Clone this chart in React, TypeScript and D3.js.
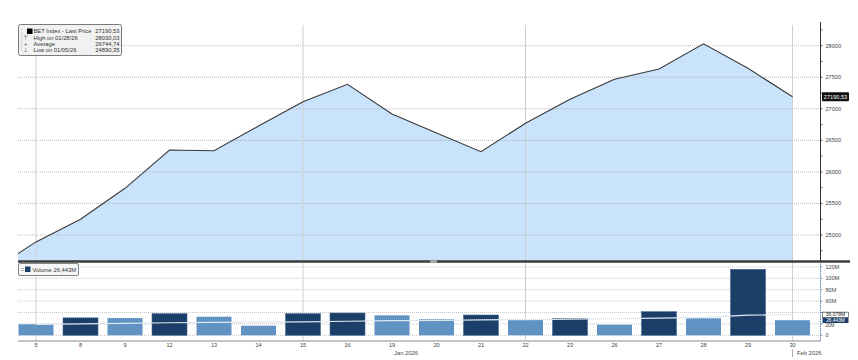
import React from "react";
import * as d3 from "d3";

// trading days shown on the axis (Jan 2026)
const dayLabels = ["5", "8", "9", "12", "13", "14", "15", "16", "19", "20", "21", "22", "23", "26", "27", "28", "29", "30"];
const prevClose = 24430; // close before Jan 5, only its segment shows at the left edge
const lastPrice = [
  24890.35, 25249, 25740, 26347, 26336, 26727, 27112, 27388, 26918, 26616,
  26320, 26770, 27152, 27468, 27631, 28030.03, 27642, 27190.53,
];
const volumeM = [
  19.3, 30.6, 30.2, 37.9, 32.6, 16.8, 37.9, 39.1, 35.0, 28.0,
  35.6, 26.8, 29.8, 18.6, 41.4, 29.8, 115.8, 26.443,
];
const volumeAvgM = [
  19.0, 20.0, 21.0, 22.0, 22.8, 23.2, 23.7, 24.6, 25.6, 26.0,
  27.2, 27.6, 28.2, 29.0, 30.0, 31.5, 35.3, 36.078,
];
const priceTicks = [25000, 25500, 26000, 26500, 27000, 27500, 28000];
const volumeTicks = [0, 20, 40, 60, 80, 100, 120];
// 40M is hidden behind the last-value boxes in the original
const volumeTickLabels = ["0", "20M", "", "60M", "80M", "100M", "120M"];
const gridDays = [0, 6, 11, 17];
const legendLabels = ["BET Index - Last Price", "High on 01/28/26", "Average", "Low on 01/05/26"];
const legendValues = ["27190,53", "28030,03", "26744,74", "24890,35"];

const W = 858;
const H = 360;
const left = 18;
const axisX = 820.5;
const priceTop = 25;
const priceBottom = 262;
const volTop = 262.5;
const volBottom = 341;
const font = "'Liberation Sans', Arial, sans-serif";

const fmt = (v: number) => v.toFixed(2).replace(".", ",");
const fmtM = (v: number) => v.toFixed(3).replace(".", ",") + "M";

export default function App() {
  const x = d3.scaleLinear().domain([0, dayLabels.length - 1]).range([36, 792.5]);
  const yP = d3.scaleLinear().domain([24572, 28328]).range([priceBottom, priceTop]);
  const yV = d3.scaleLinear().domain([-10, 127.7]).range([volBottom, volTop]);

  const pts: [number, number][] = [[-1, prevClose], ...lastPrice.map((v, i) => [i, v] as [number, number])];
  const line = d3.line<[number, number]>().x((d) => x(d[0])).y((d) => yP(d[1]));
  const area = d3
    .area<[number, number]>()
    .x((d) => x(d[0]))
    .y0(priceBottom)
    .y1((d) => yP(d[1]));
  const avgLine = d3.line<number>().x((_, i) => x(i)).y((d) => yV(d));

  const minorTicks = d3.range(24750, 28300, 250);
  const barW = 35;
  const last = lastPrice.length - 1;

  return (
    <svg width={W} height={H} style={{ position: "absolute", left: 0, top: 0, background: "#fff" }} fontFamily={font}>
      <defs>
        <clipPath id="pclip">
          <rect x={left} y={0} width={axisX - left} height={priceBottom} />
        </clipPath>
      </defs>

      {/* price panel */}
      <path d={area(pts) || ""} fill="#c9e3fd" clipPath="url(#pclip)" />
      {priceTicks.map((t) => (
        <line key={t} x1={left} x2={axisX} y1={yP(t)} y2={yP(t)} stroke="#a8a8a8" strokeWidth={0.8} strokeDasharray="1,1" />
      ))}
      {gridDays.map((d) => (
        <line key={d} x1={x(d)} x2={x(d)} y1={priceTop} y2={volBottom} stroke="#cfcfcf" strokeWidth={1} />
      ))}
      <path d={line(pts) || ""} fill="none" stroke="#3a3a3a" strokeWidth={1.1} clipPath="url(#pclip)" />

      {/* price axis */}
      <line x1={axisX} x2={axisX} y1={priceTop - 3} y2={priceBottom} stroke="#333" strokeWidth={1} />
      {minorTicks.map((t) => (
        <line key={t} x1={axisX} x2={axisX + 2} y1={yP(t)} y2={yP(t)} stroke="#333" strokeWidth={0.8} />
      ))}
      {priceTicks.map((t) => (
        <text key={t} x={axisX + 5} y={yP(t)} dy="0.35em" fontSize={5.6} fill="#444">
          {t}
        </text>
      ))}
      <rect x={822} y={yP(lastPrice[last]) - 4.5} width={27} height={9} rx={1} fill="#111" />
      <text x={835.5} y={yP(lastPrice[last])} dy="0.35em" textAnchor="middle" fontSize={5.6} fill="#fff">
        {fmt(lastPrice[last])}
      </text>

      {/* price legend */}
      <rect x={18.5} y={24.5} width={103} height={31} rx={2} fill="#f1f1f1" stroke="#6a6a6a" strokeWidth={0.9} />
      <line x1={21.5} x2={21.5} y1={29} y2={51} stroke="#999" strokeWidth={0.6} strokeDasharray="0.8,0.8" />
      <rect x={27} y={28.5} width={5.5} height={5.5} fill="#000" />
      {legendLabels.map((lab, i) => (
        <g key={lab}>
          {i > 0 && (
            <text x={25.5} y={31.3 + i * 6.3} dy="0.35em" textAnchor="middle" fontSize={5.5} fill="#444">
              {["", "⊤", "+", "⊥"][i]}
            </text>
          )}
          <text x={33.5} y={31.3 + i * 6.3} dy="0.35em" fontSize={5.8} fill="#333">
            {lab}
          </text>
          <text x={119.5} y={31.3 + i * 6.3} dy="0.35em" textAnchor="end" fontSize={5.8} fill="#333">
            {legendValues[i]}
          </text>
        </g>
      ))}

      {/* volume panel */}
      {volumeTicks.map((t) => (
        <line key={t} x1={left} x2={axisX} y1={yV(t)} y2={yV(t)} stroke="#b8b8b8" strokeWidth={0.8} strokeDasharray="1,1" />
      ))}
      {volumeM.map((v, i) => {
        const up = i > 0 && v > volumeM[i - 1];
        return (
          <rect
            key={i}
            x={x(i) - barW / 2}
            y={yV(v)}
            width={barW}
            height={yV(0) - yV(v)}
            fill={up ? "#1b3f68" : "#6092c3"}
            stroke={up ? "#44698f" : "none"}
            strokeWidth={0.6}
          />
        );
      })}
      <path d={avgLine(volumeAvgM) || ""} fill="none" stroke="#dfe8f1" strokeWidth={1.2} />

      {/* separator between panels */}
      <line x1={left} x2={850} y1={priceBottom - 0.5} y2={priceBottom - 0.5} stroke="#3b3b3b" strokeWidth={2.4} />
      <rect x={430} y={priceBottom - 1.5} width={7} height={2} fill="#bdbdbd" />

      {/* volume axis */}
      <line x1={axisX} x2={axisX} y1={volTop + 1} y2={volBottom} stroke="#4a7cb2" strokeWidth={0.9} strokeDasharray="1.5,0.8" />
      {volumeTicks.map((t, i) => (
        <g key={t}>
          <line x1={axisX} x2={axisX + 2} y1={yV(t)} y2={yV(t)} stroke="#4a7cb2" strokeWidth={0.8} />
          {volumeTickLabels[i] && (
            <text x={axisX + 5} y={yV(t) + (t === 20 ? 1.6 : 0)} dy="0.35em" fontSize={t === 20 ? 4.6 : 5.6} fill="#444">
              {volumeTickLabels[i]}
            </text>
          )}
        </g>
      ))}
      <rect x={822.5} y={yV(volumeAvgM[last]) - 2.6} width={26} height={5.2} fill="#fff" stroke="#333" strokeWidth={0.6} />
      <text x={835.5} y={yV(volumeAvgM[last])} dy="0.35em" textAnchor="middle" fontSize={5} fill="#222">
        {fmtM(volumeAvgM[last])}
      </text>
      <rect x={822.5} y={yV(volumeM[last]) - 2.6} width={26} height={5.4} fill="#1b3f68" />
      <text x={835.5} y={yV(volumeM[last]) - 0.2} dy="0.35em" textAnchor="middle" fontSize={4.8} fill="#fff">
        {fmtM(volumeM[last])}
      </text>

      {/* volume legend */}
      <rect x={18.5} y={263.5} width={60} height={12} rx={1.5} fill="#f6f6f6" stroke="#6a6a6a" strokeWidth={0.8} />
      <line x1={21} x2={24} y1={268.5} y2={268.5} stroke="#888" strokeWidth={0.6} />
      <line x1={21} x2={24} y1={270.5} y2={270.5} stroke="#888" strokeWidth={0.6} />
      <rect x={25} y={266.5} width={5.5} height={5.5} fill="#1b3f68" />
      <text x={32.5} y={269.5} dy="0.35em" fontSize={5.8} fill="#333">
        Volume {fmtM(volumeM[last])}
      </text>

      {/* x axis */}
      <line x1={left} x2={axisX} y1={volBottom} y2={volBottom} stroke="#8a8a8a" strokeWidth={1} />
      {dayLabels.map((d, i) => (
        <text key={d} x={x(i)} y={345.5} dy="0.35em" textAnchor="middle" fontSize={5.6} fill="#444">
          {d}
        </text>
      ))}
      <text x={406} y={352.5} dy="0.35em" textAnchor="middle" fontSize={5.8} fill="#444">
        Jan 2026
      </text>
      <line x1={x(last)} x2={x(last)} y1={349} y2={357} stroke="#999" strokeWidth={0.8} />
      <text x={797} y={352.5} dy="0.35em" fontSize={5.8} fill="#444">
        Feb 2026
      </text>
    </svg>
  );
}
